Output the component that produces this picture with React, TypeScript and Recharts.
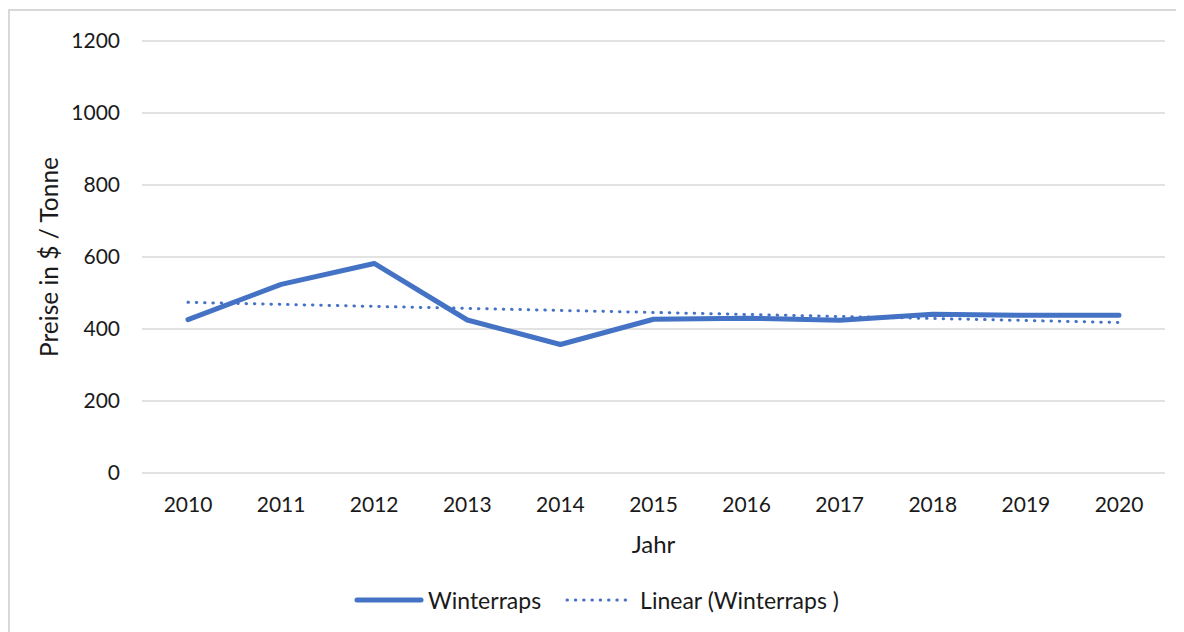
import React from 'react';
import { CartesianGrid, Label, Legend, Line, LineChart, XAxis, YAxis } from 'recharts';

const years = ['2010', '2011', '2012', '2013', '2014', '2015', '2016', '2017', '2018', '2019', '2020'];
const winterraps = [426, 524, 582, 425, 357, 427, 430, 424, 441, 438, 438];
// trend line: only the two end points are read, the line joins them
const linearTrend = [474, null, null, null, null, null, null, null, null, null, 418];
const yTicks = [0, 200, 400, 600, 800, 1000, 1200];

const BLUE = '#4472C4';
const FONT = 'Lato, sans-serif';
const TEXT = '#1a1a1a';

const data = years.map((year, i) => ({ year, winterraps: winterraps[i], trend: linearTrend[i] }));

const LegendContent = () => (
  <div style={{ display: 'flex', alignItems: 'center', fontFamily: FONT, fontSize: 23, color: TEXT }}>
    <svg width={70} height={10}>
      <line x1={3} y1={5} x2={67} y2={5} stroke={BLUE} strokeWidth={5} strokeLinecap="round"/>
    </svg>
    <span style={{ marginLeft: 4 }}>Winterraps</span>
    <svg width={70} height={10} style={{ marginLeft: 24 }}>
      <line x1={2} y1={5} x2={68} y2={5} stroke={BLUE} strokeWidth={3} strokeLinecap="round" strokeDasharray="0.5 7.8"/>
    </svg>
    <span style={{ marginLeft: 5 }}>Linear (Winterraps )</span>
  </div>
);

export default function App() {
  return <div style={{ marginTop: 1, width: 1176, height: 623, borderTop: '2px solid #d9d9d9', borderLeft: '2px solid #d9d9d9', background: '#fff' }}>
    <LineChart width={1174} height={621} data={data} margin={{ top: 30, right: 19, left: 0, bottom: 7 }}>
      <CartesianGrid vertical={false} stroke="#d9d9d9" strokeWidth={1.3}/>
      <XAxis dataKey="year" height={102} axisLine={false} tickLine={false} tickSize={0} tickMargin={24}
        padding={{ left: 46, right: 46 }}
        tick={{ fontFamily: FONT, fontSize: 21, fill: TEXT }} interval={0}>
        <Label value="Jahr" position="insideBottom" offset={22} style={{ fontFamily: FONT, fontSize: 24, fill: TEXT }}/>
      </XAxis>
      <YAxis width={132} domain={[0, 1200]} ticks={yTicks} axisLine={false} tickLine={false} tickSize={0} tickMargin={22}
        tick={{ fontFamily: FONT, fontSize: 21, fill: TEXT }}>
        <Label content={({ viewBox }: any) => {
          const cx = viewBox.x + 38;
          const cy = viewBox.y + viewBox.height / 2;
          return <text transform={`translate(${cx},${cy}) rotate(-90)`} textAnchor="middle" dominantBaseline="central"
            style={{ fontFamily: FONT, fontSize: 24.5, fill: TEXT }}>Preise in $ / Tonne</text>;
        }}/>
      </YAxis>
      <Legend verticalAlign="bottom" height={50} content={<LegendContent/>}
        wrapperStyle={{ left: 344, width: 'auto', display: 'flex', alignItems: 'center' }}/>
      <Line dataKey="winterraps" stroke={BLUE} strokeWidth={5} dot={false} strokeLinecap="round" strokeLinejoin="round" isAnimationActive={false}/>
      <Line dataKey="trend" stroke={BLUE} strokeWidth={3} dot={false} strokeLinecap="round" strokeDasharray="0.5 7.8" connectNulls isAnimationActive={false}/>
    </LineChart>
  </div>;
}
